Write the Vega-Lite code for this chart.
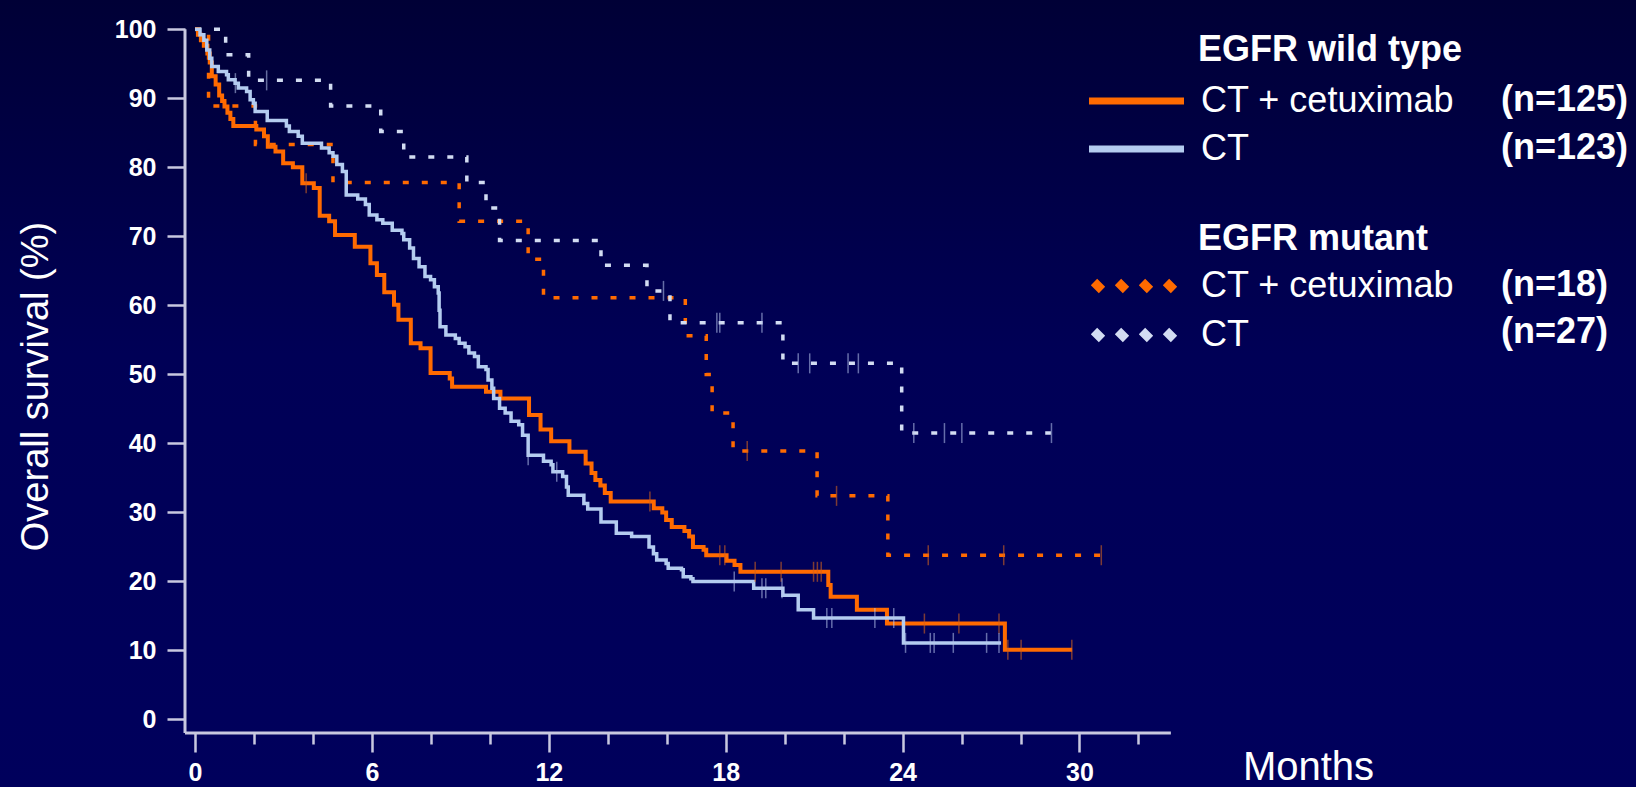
{
  "$schema": "https://vega.github.io/schema/vega-lite/v6.json",
  "width": 1636,
  "height": 787,
  "autosize": {"type": "none"},
  "padding": 0,
  "background": "#00004e",
  "view": {"stroke": null, "fill": {"gradient": "linear", "x1": 0, "y1": 0, "x2": 0, "y2": 1, "stops": [{"offset": 0, "color": "#000036"}, {"offset": 0.45, "color": "#000056"}, {"offset": 1, "color": "#00005c"}]}},
  "config": {"font": "Liberation Sans"},
  "datasets": {
    "wt": [
      {"arm": "CT + cetuximab", "n": "(n=125)", "t": 0, "s": 100},
      {"arm": "CT + cetuximab", "n": "(n=125)", "t": 0.1, "s": 99.2},
      {"arm": "CT + cetuximab", "n": "(n=125)", "t": 0.2, "s": 98.4},
      {"arm": "CT + cetuximab", "n": "(n=125)", "t": 0.3, "s": 97.6},
      {"arm": "CT + cetuximab", "n": "(n=125)", "t": 0.42, "s": 96.5},
      {"arm": "CT + cetuximab", "n": "(n=125)", "t": 0.5, "s": 95.2},
      {"arm": "CT + cetuximab", "n": "(n=125)", "t": 0.57, "s": 93.2},
      {"arm": "CT + cetuximab", "n": "(n=125)", "t": 0.7, "s": 92.0},
      {"arm": "CT + cetuximab", "n": "(n=125)", "t": 0.82, "s": 90.4},
      {"arm": "CT + cetuximab", "n": "(n=125)", "t": 0.92, "s": 89.6},
      {"arm": "CT + cetuximab", "n": "(n=125)", "t": 1.0, "s": 88.8},
      {"arm": "CT + cetuximab", "n": "(n=125)", "t": 1.1, "s": 87.9},
      {"arm": "CT + cetuximab", "n": "(n=125)", "t": 1.2, "s": 87.0},
      {"arm": "CT + cetuximab", "n": "(n=125)", "t": 1.3, "s": 86.0},
      {"arm": "CT + cetuximab", "n": "(n=125)", "t": 2.08, "s": 85.5},
      {"arm": "CT + cetuximab", "n": "(n=125)", "t": 2.34, "s": 84.5},
      {"arm": "CT + cetuximab", "n": "(n=125)", "t": 2.47, "s": 83.0},
      {"arm": "CT + cetuximab", "n": "(n=125)", "t": 2.73, "s": 82.3},
      {"arm": "CT + cetuximab", "n": "(n=125)", "t": 2.99, "s": 80.6},
      {"arm": "CT + cetuximab", "n": "(n=125)", "t": 3.32, "s": 80.0},
      {"arm": "CT + cetuximab", "n": "(n=125)", "t": 3.64, "s": 77.7},
      {"arm": "CT + cetuximab", "n": "(n=125)", "t": 4.03, "s": 77.0},
      {"arm": "CT + cetuximab", "n": "(n=125)", "t": 4.23, "s": 73.0},
      {"arm": "CT + cetuximab", "n": "(n=125)", "t": 4.55, "s": 72.2},
      {"arm": "CT + cetuximab", "n": "(n=125)", "t": 4.75, "s": 70.2},
      {"arm": "CT + cetuximab", "n": "(n=125)", "t": 5.42, "s": 68.5},
      {"arm": "CT + cetuximab", "n": "(n=125)", "t": 5.95, "s": 66.1},
      {"arm": "CT + cetuximab", "n": "(n=125)", "t": 6.17, "s": 64.4},
      {"arm": "CT + cetuximab", "n": "(n=125)", "t": 6.42, "s": 61.9},
      {"arm": "CT + cetuximab", "n": "(n=125)", "t": 6.75, "s": 60.1},
      {"arm": "CT + cetuximab", "n": "(n=125)", "t": 6.9, "s": 57.9},
      {"arm": "CT + cetuximab", "n": "(n=125)", "t": 7.32, "s": 54.5},
      {"arm": "CT + cetuximab", "n": "(n=125)", "t": 7.65, "s": 53.8},
      {"arm": "CT + cetuximab", "n": "(n=125)", "t": 7.99, "s": 50.2},
      {"arm": "CT + cetuximab", "n": "(n=125)", "t": 8.64, "s": 49.4},
      {"arm": "CT + cetuximab", "n": "(n=125)", "t": 8.72, "s": 48.2},
      {"arm": "CT + cetuximab", "n": "(n=125)", "t": 9.87, "s": 47.5},
      {"arm": "CT + cetuximab", "n": "(n=125)", "t": 10.36, "s": 46.5},
      {"arm": "CT + cetuximab", "n": "(n=125)", "t": 11.33, "s": 44.1},
      {"arm": "CT + cetuximab", "n": "(n=125)", "t": 11.72, "s": 42.0},
      {"arm": "CT + cetuximab", "n": "(n=125)", "t": 12.08, "s": 40.3},
      {"arm": "CT + cetuximab", "n": "(n=125)", "t": 12.7, "s": 38.8},
      {"arm": "CT + cetuximab", "n": "(n=125)", "t": 13.25, "s": 37.1},
      {"arm": "CT + cetuximab", "n": "(n=125)", "t": 13.45, "s": 35.7},
      {"arm": "CT + cetuximab", "n": "(n=125)", "t": 13.58, "s": 34.7},
      {"arm": "CT + cetuximab", "n": "(n=125)", "t": 13.75, "s": 33.9},
      {"arm": "CT + cetuximab", "n": "(n=125)", "t": 13.9, "s": 32.8},
      {"arm": "CT + cetuximab", "n": "(n=125)", "t": 14.1, "s": 31.6},
      {"arm": "CT + cetuximab", "n": "(n=125)", "t": 15.56, "s": 30.6},
      {"arm": "CT + cetuximab", "n": "(n=125)", "t": 15.85, "s": 30.0},
      {"arm": "CT + cetuximab", "n": "(n=125)", "t": 15.98, "s": 28.9},
      {"arm": "CT + cetuximab", "n": "(n=125)", "t": 16.17, "s": 27.9},
      {"arm": "CT + cetuximab", "n": "(n=125)", "t": 16.6, "s": 27.3},
      {"arm": "CT + cetuximab", "n": "(n=125)", "t": 16.76, "s": 26.5},
      {"arm": "CT + cetuximab", "n": "(n=125)", "t": 16.89, "s": 25.0},
      {"arm": "CT + cetuximab", "n": "(n=125)", "t": 17.25, "s": 24.6},
      {"arm": "CT + cetuximab", "n": "(n=125)", "t": 17.34, "s": 23.8},
      {"arm": "CT + cetuximab", "n": "(n=125)", "t": 18.03, "s": 23.0},
      {"arm": "CT + cetuximab", "n": "(n=125)", "t": 18.3, "s": 22.4},
      {"arm": "CT + cetuximab", "n": "(n=125)", "t": 18.5, "s": 21.4},
      {"arm": "CT + cetuximab", "n": "(n=125)", "t": 21.48, "s": 19.5},
      {"arm": "CT + cetuximab", "n": "(n=125)", "t": 21.56, "s": 17.8},
      {"arm": "CT + cetuximab", "n": "(n=125)", "t": 22.45, "s": 15.9},
      {"arm": "CT + cetuximab", "n": "(n=125)", "t": 23.47, "s": 13.9},
      {"arm": "CT + cetuximab", "n": "(n=125)", "t": 27.47, "s": 10.1},
      {"arm": "CT + cetuximab", "n": "(n=125)", "t": 29.75, "s": 10.1},
      {"arm": "CT", "n": "(n=123)", "t": 0, "s": 100},
      {"arm": "CT", "n": "(n=123)", "t": 0.17, "s": 99.2},
      {"arm": "CT", "n": "(n=123)", "t": 0.3, "s": 98.4},
      {"arm": "CT", "n": "(n=123)", "t": 0.4, "s": 97.0},
      {"arm": "CT", "n": "(n=123)", "t": 0.5, "s": 95.8},
      {"arm": "CT", "n": "(n=123)", "t": 0.57, "s": 94.6},
      {"arm": "CT", "n": "(n=123)", "t": 0.79, "s": 93.9},
      {"arm": "CT", "n": "(n=123)", "t": 1.07, "s": 93.4},
      {"arm": "CT", "n": "(n=123)", "t": 1.13, "s": 92.7},
      {"arm": "CT", "n": "(n=123)", "t": 1.36, "s": 92.2},
      {"arm": "CT", "n": "(n=123)", "t": 1.47, "s": 91.5},
      {"arm": "CT", "n": "(n=123)", "t": 1.75, "s": 91.0},
      {"arm": "CT", "n": "(n=123)", "t": 1.87, "s": 89.8},
      {"arm": "CT", "n": "(n=123)", "t": 1.98, "s": 89.3},
      {"arm": "CT", "n": "(n=123)", "t": 2.04, "s": 88.1},
      {"arm": "CT", "n": "(n=123)", "t": 2.45, "s": 86.8},
      {"arm": "CT", "n": "(n=123)", "t": 3.1, "s": 86.0},
      {"arm": "CT", "n": "(n=123)", "t": 3.2, "s": 85.2},
      {"arm": "CT", "n": "(n=123)", "t": 3.5, "s": 84.5},
      {"arm": "CT", "n": "(n=123)", "t": 3.64, "s": 83.5},
      {"arm": "CT", "n": "(n=123)", "t": 4.29, "s": 82.8},
      {"arm": "CT", "n": "(n=123)", "t": 4.55, "s": 82.1},
      {"arm": "CT", "n": "(n=123)", "t": 4.68, "s": 81.6},
      {"arm": "CT", "n": "(n=123)", "t": 4.81, "s": 80.4},
      {"arm": "CT", "n": "(n=123)", "t": 5.0, "s": 79.4},
      {"arm": "CT", "n": "(n=123)", "t": 5.13, "s": 76.0},
      {"arm": "CT", "n": "(n=123)", "t": 5.52, "s": 75.4},
      {"arm": "CT", "n": "(n=123)", "t": 5.78, "s": 74.6},
      {"arm": "CT", "n": "(n=123)", "t": 5.91, "s": 73.1},
      {"arm": "CT", "n": "(n=123)", "t": 6.17, "s": 72.4},
      {"arm": "CT", "n": "(n=123)", "t": 6.37, "s": 71.9},
      {"arm": "CT", "n": "(n=123)", "t": 6.69, "s": 70.9},
      {"arm": "CT", "n": "(n=123)", "t": 7.02, "s": 70.4},
      {"arm": "CT", "n": "(n=123)", "t": 7.08, "s": 69.5},
      {"arm": "CT", "n": "(n=123)", "t": 7.28, "s": 68.3},
      {"arm": "CT", "n": "(n=123)", "t": 7.41, "s": 66.8},
      {"arm": "CT", "n": "(n=123)", "t": 7.6, "s": 65.6},
      {"arm": "CT", "n": "(n=123)", "t": 7.8, "s": 64.2},
      {"arm": "CT", "n": "(n=123)", "t": 7.99, "s": 63.7},
      {"arm": "CT", "n": "(n=123)", "t": 8.12, "s": 62.7},
      {"arm": "CT", "n": "(n=123)", "t": 8.25, "s": 61.8},
      {"arm": "CT", "n": "(n=123)", "t": 8.28, "s": 59.3},
      {"arm": "CT", "n": "(n=123)", "t": 8.31, "s": 56.9},
      {"arm": "CT", "n": "(n=123)", "t": 8.51, "s": 55.7},
      {"arm": "CT", "n": "(n=123)", "t": 8.83, "s": 55.2},
      {"arm": "CT", "n": "(n=123)", "t": 8.96, "s": 54.5},
      {"arm": "CT", "n": "(n=123)", "t": 9.16, "s": 54.0},
      {"arm": "CT", "n": "(n=123)", "t": 9.29, "s": 53.1},
      {"arm": "CT", "n": "(n=123)", "t": 9.48, "s": 52.6},
      {"arm": "CT", "n": "(n=123)", "t": 9.61, "s": 51.1},
      {"arm": "CT", "n": "(n=123)", "t": 9.87, "s": 50.7},
      {"arm": "CT", "n": "(n=123)", "t": 9.94, "s": 49.2},
      {"arm": "CT", "n": "(n=123)", "t": 10.07, "s": 48.0},
      {"arm": "CT", "n": "(n=123)", "t": 10.13, "s": 46.5},
      {"arm": "CT", "n": "(n=123)", "t": 10.33, "s": 45.1},
      {"arm": "CT", "n": "(n=123)", "t": 10.52, "s": 44.4},
      {"arm": "CT", "n": "(n=123)", "t": 10.72, "s": 43.2},
      {"arm": "CT", "n": "(n=123)", "t": 10.98, "s": 42.7},
      {"arm": "CT", "n": "(n=123)", "t": 11.11, "s": 41.2},
      {"arm": "CT", "n": "(n=123)", "t": 11.3, "s": 38.3},
      {"arm": "CT", "n": "(n=123)", "t": 11.82, "s": 37.4},
      {"arm": "CT", "n": "(n=123)", "t": 12.08, "s": 36.9},
      {"arm": "CT", "n": "(n=123)", "t": 12.14, "s": 35.9},
      {"arm": "CT", "n": "(n=123)", "t": 12.47, "s": 35.2},
      {"arm": "CT", "n": "(n=123)", "t": 12.6, "s": 33.7},
      {"arm": "CT", "n": "(n=123)", "t": 12.66, "s": 32.5},
      {"arm": "CT", "n": "(n=123)", "t": 13.19, "s": 31.3},
      {"arm": "CT", "n": "(n=123)", "t": 13.32, "s": 30.5},
      {"arm": "CT", "n": "(n=123)", "t": 13.77, "s": 28.6},
      {"arm": "CT", "n": "(n=123)", "t": 14.29, "s": 27.0},
      {"arm": "CT", "n": "(n=123)", "t": 14.81, "s": 26.5},
      {"arm": "CT", "n": "(n=123)", "t": 15.4, "s": 25.0},
      {"arm": "CT", "n": "(n=123)", "t": 15.55, "s": 24.0},
      {"arm": "CT", "n": "(n=123)", "t": 15.66, "s": 23.1},
      {"arm": "CT", "n": "(n=123)", "t": 15.98, "s": 22.6},
      {"arm": "CT", "n": "(n=123)", "t": 16.05, "s": 21.9},
      {"arm": "CT", "n": "(n=123)", "t": 16.5, "s": 21.7},
      {"arm": "CT", "n": "(n=123)", "t": 16.56, "s": 20.7},
      {"arm": "CT", "n": "(n=123)", "t": 16.82, "s": 20.4},
      {"arm": "CT", "n": "(n=123)", "t": 16.89, "s": 20.0},
      {"arm": "CT", "n": "(n=123)", "t": 18.95, "s": 19.0},
      {"arm": "CT", "n": "(n=123)", "t": 19.94, "s": 18.0},
      {"arm": "CT", "n": "(n=123)", "t": 20.46, "s": 15.9},
      {"arm": "CT", "n": "(n=123)", "t": 20.98, "s": 14.7},
      {"arm": "CT", "n": "(n=123)", "t": 24.03, "s": 11.1},
      {"arm": "CT", "n": "(n=123)", "t": 27.34, "s": 11.1}
    ],
    "mut": [
      {"arm": "CT + cetuximab", "n": "(n=18)", "t": 0, "s": 100},
      {"arm": "CT + cetuximab", "n": "(n=18)", "t": 0.46, "s": 88.9},
      {"arm": "CT + cetuximab", "n": "(n=18)", "t": 2.05, "s": 83.3},
      {"arm": "CT + cetuximab", "n": "(n=18)", "t": 4.68, "s": 77.8},
      {"arm": "CT + cetuximab", "n": "(n=18)", "t": 8.96, "s": 72.2},
      {"arm": "CT + cetuximab", "n": "(n=18)", "t": 11.3, "s": 66.7},
      {"arm": "CT + cetuximab", "n": "(n=18)", "t": 11.82, "s": 61.1},
      {"arm": "CT + cetuximab", "n": "(n=18)", "t": 16.63, "s": 55.6},
      {"arm": "CT + cetuximab", "n": "(n=18)", "t": 17.34, "s": 50.0},
      {"arm": "CT + cetuximab", "n": "(n=18)", "t": 17.54, "s": 44.4},
      {"arm": "CT + cetuximab", "n": "(n=18)", "t": 18.25, "s": 38.9},
      {"arm": "CT + cetuximab", "n": "(n=18)", "t": 21.1, "s": 32.4},
      {"arm": "CT + cetuximab", "n": "(n=18)", "t": 23.5, "s": 23.8},
      {"arm": "CT + cetuximab", "n": "(n=18)", "t": 30.8, "s": 23.8},
      {"arm": "CT", "n": "(n=27)", "t": 0, "s": 100},
      {"arm": "CT", "n": "(n=27)", "t": 1.04, "s": 96.3},
      {"arm": "CT", "n": "(n=27)", "t": 1.82, "s": 92.6},
      {"arm": "CT", "n": "(n=27)", "t": 4.6, "s": 88.9},
      {"arm": "CT", "n": "(n=27)", "t": 6.3, "s": 85.2},
      {"arm": "CT", "n": "(n=27)", "t": 7.08, "s": 81.5},
      {"arm": "CT", "n": "(n=27)", "t": 9.22, "s": 77.8},
      {"arm": "CT", "n": "(n=27)", "t": 9.87, "s": 74.1},
      {"arm": "CT", "n": "(n=27)", "t": 10.33, "s": 69.4},
      {"arm": "CT", "n": "(n=27)", "t": 13.77, "s": 65.8},
      {"arm": "CT", "n": "(n=27)", "t": 15.33, "s": 62.1},
      {"arm": "CT", "n": "(n=27)", "t": 16.11, "s": 57.5},
      {"arm": "CT", "n": "(n=27)", "t": 19.94, "s": 51.6},
      {"arm": "CT", "n": "(n=27)", "t": 23.97, "s": 41.5},
      {"arm": "CT", "n": "(n=27)", "t": 29.03, "s": 41.5}
    ],
    "cens": [
      {"arm": "CT + cetuximab", "t": 3.77, "s": 77.7},
      {"arm": "CT + cetuximab", "t": 15.43, "s": 31.6},
      {"arm": "CT + cetuximab", "t": 17.8, "s": 23.8},
      {"arm": "CT + cetuximab", "t": 17.97, "s": 23.8},
      {"arm": "CT + cetuximab", "t": 19.0, "s": 21.4},
      {"arm": "CT + cetuximab", "t": 19.88, "s": 21.4},
      {"arm": "CT + cetuximab", "t": 20.98, "s": 21.4},
      {"arm": "CT + cetuximab", "t": 21.11, "s": 21.4},
      {"arm": "CT + cetuximab", "t": 21.24, "s": 21.4},
      {"arm": "CT + cetuximab", "t": 24.74, "s": 13.9},
      {"arm": "CT + cetuximab", "t": 25.91, "s": 13.9},
      {"arm": "CT + cetuximab", "t": 27.27, "s": 13.9},
      {"arm": "CT + cetuximab", "t": 27.57, "s": 10.1},
      {"arm": "CT + cetuximab", "t": 28.02, "s": 10.1},
      {"arm": "CT + cetuximab", "t": 29.74, "s": 10.1},
      {"arm": "CT + cetuximab", "t": 18.73, "s": 38.9},
      {"arm": "CT + cetuximab", "t": 21.76, "s": 32.4},
      {"arm": "CT + cetuximab", "t": 24.87, "s": 23.8},
      {"arm": "CT + cetuximab", "t": 27.43, "s": 23.8},
      {"arm": "CT + cetuximab", "t": 30.74, "s": 23.8},
      {"arm": "CT", "t": 1.37, "s": 92.2},
      {"arm": "CT", "t": 11.3, "s": 38.3},
      {"arm": "CT", "t": 12.27, "s": 35.9},
      {"arm": "CT", "t": 18.29, "s": 20.0},
      {"arm": "CT", "t": 19.23, "s": 19.0},
      {"arm": "CT", "t": 19.36, "s": 19.0},
      {"arm": "CT", "t": 19.91, "s": 19.0},
      {"arm": "CT", "t": 21.43, "s": 14.7},
      {"arm": "CT", "t": 21.6, "s": 14.7},
      {"arm": "CT", "t": 23.06, "s": 14.7},
      {"arm": "CT", "t": 23.7, "s": 14.7},
      {"arm": "CT", "t": 24.1, "s": 11.1},
      {"arm": "CT", "t": 24.94, "s": 11.1},
      {"arm": "CT", "t": 25.07, "s": 11.1},
      {"arm": "CT", "t": 25.72, "s": 11.1},
      {"arm": "CT", "t": 26.85, "s": 11.1},
      {"arm": "CT", "t": 27.27, "s": 11.1},
      {"arm": "CT", "t": 2.43, "s": 92.6},
      {"arm": "CT", "t": 15.89, "s": 62.1},
      {"arm": "CT", "t": 17.7, "s": 57.5},
      {"arm": "CT", "t": 17.8, "s": 57.5},
      {"arm": "CT", "t": 19.23, "s": 57.5},
      {"arm": "CT", "t": 20.46, "s": 51.6},
      {"arm": "CT", "t": 20.85, "s": 51.6},
      {"arm": "CT", "t": 22.15, "s": 51.6},
      {"arm": "CT", "t": 22.5, "s": 51.6},
      {"arm": "CT", "t": 24.38, "s": 41.5},
      {"arm": "CT", "t": 25.42, "s": 41.5},
      {"arm": "CT", "t": 26.01, "s": 41.5},
      {"arm": "CT", "t": 29.05, "s": 41.5}
    ],
    "frame": [{"part": "axes"}]
  },
  "layer": [
    {
      "data": {"name": "mut"},
      "mark": {"type": "line", "interpolate": "step-after", "strokeWidth": 3.5},
      "encoding": {
        "x": {
          "field": "t", "type": "quantitative",
          "scale": {"domain": [-6.614, 48.876], "nice": false, "zero": false},
          "axis": {
            "orient": "bottom", "offset": -54, "domain": false, "grid": false,
            "values": [0, 2, 4, 6, 8, 10, 12, 14, 16, 18, 20, 22, 24, 26, 28, 30, 32],
            "labelExpr": "datum.value % 6 === 0 ? datum.label : ''",
            "tickSize": {"condition": {"test": "datum.value % 6 === 0", "value": 19}, "value": 11},
            "tickColor": "#c8c8e0", "tickWidth": 2.5,
            "labelFont": "Liberation Sans", "labelFontWeight": "bold", "labelFontSize": 25, "labelColor": "#ffffff",
            "labelPadding": 8, "labelOverlap": false, "labelFlush": false, "labelBound": false,
            "title": "Months", "titleFont": "Liberation Sans", "titleFontWeight": "normal", "titleFontSize": 40, "titleColor": "#ffffff",
            "titleX": 1308, "titleY": 46, "titleAlign": "center", "titleBaseline": "alphabetic", "titleAnchor": null
          }
        },
        "y": {
          "field": "s", "type": "quantitative",
          "scale": {"domain": [-9.78, 104.245], "nice": false, "zero": false},
          "axis": {
            "orient": "left", "offset": -185, "domain": false, "grid": false,
            "values": [0, 5, 10, 15, 20, 25, 30, 35, 40, 45, 50, 55, 60, 65, 70, 75, 80, 85, 90, 95, 100],
            "labelExpr": "datum.value % 10 === 0 ? datum.label : ''",
            "tickSize": {"condition": {"test": "datum.value % 10 === 0", "value": 18}, "value": 9},
            "tickColor": "#c8c8e0", "tickWidth": 2.5,
            "labelFont": "Liberation Sans", "labelFontWeight": "bold", "labelFontSize": 25, "labelColor": "#ffffff",
            "labelPadding": 11, "labelOverlap": false, "labelFlush": false, "labelBound": false,
            "title": "Overall survival (%)", "titleFont": "Liberation Sans", "titleFontWeight": "normal", "titleFontSize": 38, "titleColor": "#ffffff",
            "titleX": -149, "titleY": 386, "titleAngle": -90, "titleAlign": "center", "titleBaseline": "middle", "titleAnchor": null
          }
        },
        "color": {
          "field": "arm", "type": "nominal", "sort": "descending",
          "scale": {"range": ["#ff6a00", "#d2dcf2"]},
          "legend": {
            "orient": "none", "legendX": 1198, "legendY": 222, "padding": 0,
            "title": "EGFR mutant", "titleFont": "Liberation Sans", "titleFontSize": 36, "titleFontWeight": "bold", "titleColor": "#ffffff",
            "titleAnchor": "start", "titlePadding": 10, "titleLimit": 0,
            "labelFont": "Liberation Sans", "labelFontSize": 36, "labelColor": "#ffffff", "labelOffset": -33, "labelLimit": 0,
            "symbolType": "M-122,-4L-114,4M-98,-4L-90,4M-74,-4L-66,4M-50,-4L-42,4",
            "symbolSize": 4, "symbolStrokeWidth": 9, "rowPadding": 5
          }
        },
        "strokeDash": {
          "field": "n", "type": "nominal", "sort": "ascending",
          "scale": {"range": [[6, 13], [6, 13]]},
          "legend": {
            "orient": "none", "legendX": 1465, "legendY": 267, "padding": 0, "title": null,
            "labelFont": "Liberation Sans", "labelFontSize": 36, "labelFontWeight": "bold", "labelColor": "#ffffff", "labelOffset": 0, "labelLimit": 0,
            "symbolOpacity": 0, "symbolSize": 0, "symbolStrokeWidth": 0, "rowPadding": 11
          }
        }
      }
    },
    {
      "data": {"name": "wt"},
      "mark": {"type": "line", "interpolate": "step-after"},
      "encoding": {
        "x": {"field": "t", "type": "quantitative"},
        "y": {"field": "s", "type": "quantitative"},
        "stroke": {
          "field": "arm", "type": "nominal", "sort": "descending",
          "scale": {"range": ["#ff6a00", "#b4ccf0"]},
          "legend": {
            "orient": "none", "legendX": 1198, "legendY": 33, "padding": 0,
            "title": "EGFR wild type", "titleFont": "Liberation Sans", "titleFontSize": 36, "titleFontWeight": "bold", "titleColor": "#ffffff",
            "titleAnchor": "start", "titlePadding": 14, "titleLimit": 0,
            "labelFont": "Liberation Sans", "labelFontSize": 36, "labelColor": "#ffffff", "labelOffset": -33, "labelLimit": 0,
            "symbolType": "M-127,0H-32",
            "symbolSize": 4, "symbolStrokeWidth": 7, "rowPadding": 12
          }
        },
        "strokeWidth": {
          "field": "n", "type": "nominal", "sort": "descending",
          "scale": {"range": [4, 3.5]},
          "legend": {
            "orient": "none", "legendX": 1465, "legendY": 82, "padding": 0, "title": null,
            "labelFont": "Liberation Sans", "labelFontSize": 36, "labelFontWeight": "bold", "labelColor": "#ffffff", "labelOffset": 0, "labelLimit": 0,
            "symbolOpacity": 0, "symbolSize": 0, "symbolStrokeWidth": 0, "rowPadding": 12
          }
        }
      }
    },
    {
      "data": {"name": "cens"},
      "transform": [{"filter": "datum.arm === 'CT + cetuximab'"}],
      "mark": {"type": "tick", "orient": "vertical", "size": 20, "thickness": 1.5, "color": "#d0621e", "opacity": 0.6},
      "encoding": {
        "x": {"field": "t", "type": "quantitative"},
        "y": {"field": "s", "type": "quantitative"}
      }
    },
    {
      "data": {"name": "cens"},
      "transform": [{"filter": "datum.arm === 'CT'"}],
      "mark": {"type": "tick", "orient": "vertical", "size": 20, "thickness": 1.5, "color": "#b8c6ee", "opacity": 0.55},
      "encoding": {
        "x": {"field": "t", "type": "quantitative"},
        "y": {"field": "s", "type": "quantitative"}
      }
    },
    {
      "data": {"name": "frame"},
      "mark": {"type": "rule", "color": "#c8c8e0", "strokeWidth": 3},
      "encoding": {
        "x": {"datum": -0.339, "type": "quantitative"},
        "y": {"datum": -1.956, "type": "quantitative"},
        "y2": {"datum": 100}
      }
    },
    {
      "data": {"name": "frame"},
      "mark": {"type": "rule", "color": "#c8c8e0", "strokeWidth": 3},
      "encoding": {
        "x": {"datum": -0.339, "type": "quantitative"},
        "x2": {"datum": 33.1},
        "y": {"datum": -1.956, "type": "quantitative"}
      }
    }
  ]
}
